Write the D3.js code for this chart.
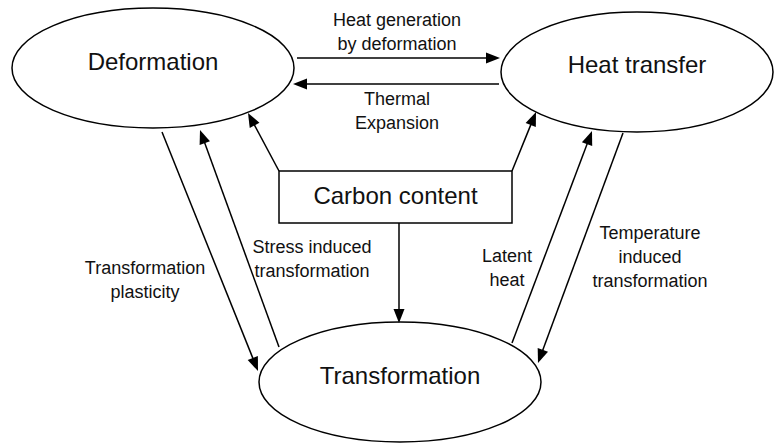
<!DOCTYPE html>
<html>
<head>
<meta charset="utf-8">
<script src="https://cdn.jsdelivr.net/npm/d3@7"></script>
<style>
  html, body { margin: 0; padding: 0; background: #fff; }
  svg { display: block; font-family: Arial, "Liberation Sans", sans-serif; }
</style>
</head>
<body>
<div id="chart"></div>
<script>
// nodes of the diagram
const nodeNames = ['Deformation', 'Heat transfer', 'Transformation'];
const boxName = 'Carbon content';

// coupling arrows: from -> to, with label lines
const edgeFrom = ['Deformation', 'Heat transfer', 'Carbon content', 'Carbon content', 'Carbon content',
  'Deformation', 'Transformation', 'Transformation', 'Heat transfer'];
const edgeTo = ['Heat transfer', 'Deformation', 'Deformation', 'Heat transfer', 'Transformation',
  'Transformation', 'Deformation', 'Heat transfer', 'Transformation'];
const edgeLabels = [
  ['Heat generation', 'by deformation'],
  ['Thermal', 'Expansion'],
  [], [], [],
  ['Transformation', 'plasticity'],
  ['Stress induced', 'transformation'],
  ['Latent', 'heat'],
  ['Temperature', 'induced', 'transformation']
];

const width = 774;
const height = 443;

// layout (pixels)
const ellipses = {
  'Deformation': { cx: 153, cy: 68, rx: 141, ry: 60, ty: 70 },
  'Heat transfer': { cx: 637, cy: 72, rx: 136, ry: 60, ty: 73 },
  'Transformation': { cx: 400, cy: 382, rx: 141, ry: 60, ty: 384 }
};
const box = { x: 279, y: 171, w: 233, h: 52, ty: 204 };

const edgeLayout = [
  { x1: 297, y1: 58, x2: 500, y2: 58, lx: 397, ly: 26 },
  { x1: 499, y1: 84, x2: 293, y2: 84, lx: 397, ly: 105 },
  { x1: 279, y1: 171, x2: 248, y2: 113 },
  { x1: 512, y1: 171, x2: 536, y2: 112 },
  { x1: 399, y1: 223, x2: 399, y2: 323 },
  { x1: 162, y1: 132, x2: 258, y2: 371, lx: 145, ly: 274 },
  { x1: 279, y1: 347, x2: 200, y2: 130, lx: 312, ly: 253 },
  { x1: 512, y1: 343, x2: 592, y2: 131, lx: 507, ly: 262 },
  { x1: 623, y1: 133, x2: 538, y2: 363, lx: 650, ly: 239 }
];

const svg = d3.select('#chart')
  .append('svg')
  .attr('width', width)
  .attr('height', height);

// ellipses
const nodes = svg.selectAll('g.node')
  .data(nodeNames)
  .enter()
  .append('g')
  .attr('class', 'node');

nodes.append('ellipse')
  .attr('cx', d => ellipses[d].cx)
  .attr('cy', d => ellipses[d].cy)
  .attr('rx', d => ellipses[d].rx)
  .attr('ry', d => ellipses[d].ry)
  .attr('fill', '#fff')
  .attr('stroke', '#000')
  .attr('stroke-width', 1.5);

nodes.append('text')
  .attr('x', d => ellipses[d].cx)
  .attr('y', d => ellipses[d].ty)
  .attr('text-anchor', 'middle')
  .attr('font-size', '24px')
  .attr('fill', '#111')
  .text(d => d);

// carbon content box
svg.append('rect')
  .attr('x', box.x)
  .attr('y', box.y)
  .attr('width', box.w)
  .attr('height', box.h)
  .attr('fill', '#fff')
  .attr('stroke', '#000')
  .attr('stroke-width', 1.5);

svg.append('text')
  .attr('x', box.x + box.w / 2)
  .attr('y', box.ty)
  .attr('text-anchor', 'middle')
  .attr('font-size', '24px')
  .attr('fill', '#111')
  .text(boxName);

// arrows
const headLen = 14;
const headHalf = 5.5;

const edges = edgeFrom.map((f, i) => ({
  from: f, to: edgeTo[i], label: edgeLabels[i], ...edgeLayout[i]
}));

const eg = svg.selectAll('g.edge')
  .data(edges)
  .enter()
  .append('g')
  .attr('class', 'edge');

eg.append('line')
  .attr('x1', d => d.x1)
  .attr('y1', d => d.y1)
  .attr('x2', d => {
    const a = Math.atan2(d.y2 - d.y1, d.x2 - d.x1);
    return d.x2 - Math.cos(a) * (headLen - 2);
  })
  .attr('y2', d => {
    const a = Math.atan2(d.y2 - d.y1, d.x2 - d.x1);
    return d.y2 - Math.sin(a) * (headLen - 2);
  })
  .attr('stroke', '#000')
  .attr('stroke-width', 1.5);

eg.append('path')
  .attr('d', d => {
    const a = Math.atan2(d.y2 - d.y1, d.x2 - d.x1);
    const bx = d.x2 - Math.cos(a) * headLen;
    const by = d.y2 - Math.sin(a) * headLen;
    const px = -Math.sin(a) * headHalf;
    const py = Math.cos(a) * headHalf;
    return `M${d.x2},${d.y2}L${bx + px},${by + py}L${bx - px},${by - py}Z`;
  })
  .attr('fill', '#000');

eg.filter(d => d.label.length > 0)
  .append('text')
  .attr('text-anchor', 'middle')
  .attr('font-size', '18px')
  .attr('fill', '#111')
  .selectAll('tspan')
  .data(d => d.label.map((t, k) => ({ t, x: d.lx, y: d.ly + k * 24 })))
  .enter()
  .append('tspan')
  .attr('x', d => d.x)
  .attr('y', d => d.y)
  .text(d => d.t);
</script>
</body>
</html>
